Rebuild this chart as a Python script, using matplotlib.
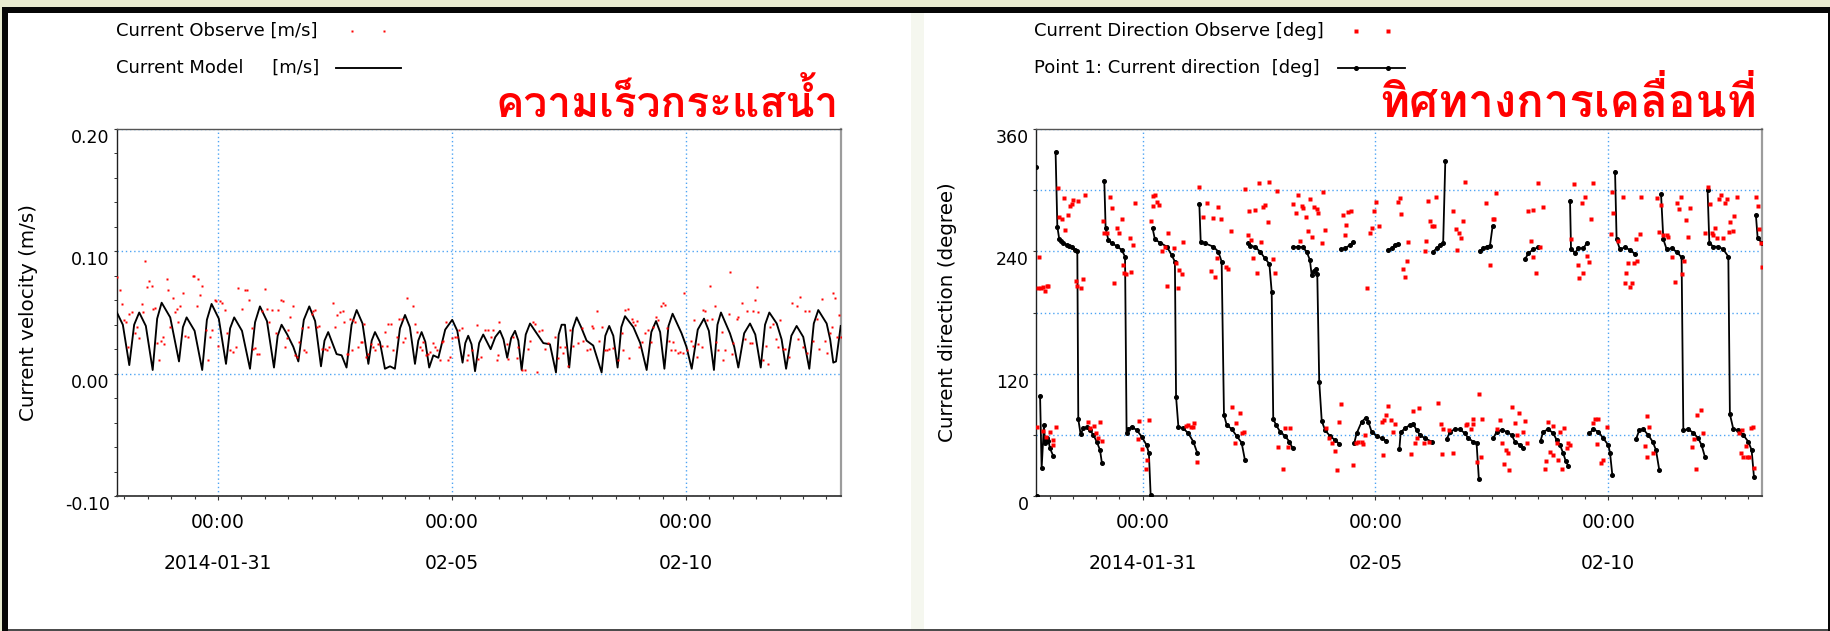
import numpy as np
import matplotlib
matplotlib.use("Agg")
import matplotlib.pyplot as plt
import matplotlib.dates as mdates
import matplotlib.transforms as mtransforms
from matplotlib import font_manager
from matplotlib.ft2font import FT2Font
from matplotlib.lines import Line2D
from matplotlib.patches import Rectangle
from matplotlib.ticker import FixedLocator, FixedFormatter, MultipleLocator

NAN = float("nan")

# ---------------------------------------------------------------- axes setup
VEL_START = np.datetime64("2014-01-28T20:00")
VEL_SPAN_H = 371.3
DIR_START = np.datetime64("2014-01-28T17:00")
DIR_SPAN_H = 374.1

MAJOR_DATES = ["2014-01-31", "2014-02-05", "2014-02-10"]
TIME_LABELS = ["00:00", "00:00", "00:00"]
DATE_LABELS = ["2014-01-31", "02-05", "02-10"]

VEL_YLIM = (-0.10, 0.20)
VEL_YTICKS = [-0.10, 0.00, 0.10, 0.20]
VEL_YTICK_LABELS = ["-0.10", "0.00", "0.10", "0.20"]
DIR_YLIM = (0, 360)
DIR_YTICKS = [0, 60, 120, 180, 240, 300, 360]
DIR_YTICK_LABELS = ["0", "", "120", "", "240", "", "360"]

TITLE_VEL = "ความเร็วกระแสน้ำ"
TITLE_DIR = "ทิศทางการเคลื่อนที่"
LEGEND_VEL = ["Current Observe [m/s]", "Current Model     [m/s]"]
LEGEND_DIR = ["Current Direction Observe [deg]", "Point 1: Current direction  [deg]"]
YLABEL_VEL = "Current velocity (m/s)"
YLABEL_DIR = "Current direction (degree)"

# ---------------------------------------------------------------- data
# (hours since VEL_START, speed m/s)
VEL_OBS = [
    (0.0, 0.079), (1.7, 0.068), (2.6, 0.057), (3.8, 0.044), (4.8, 0.042), (5.6, 0.022), (6.5, 0.049),
    (7.7, 0.050), (9.4, 0.033), (10.3, 0.038), (11.6, 0.029), (12.8, 0.057), (13.7, 0.050), (14.5, 0.092),
    (15.7, 0.071), (16.6, 0.076), (17.9, 0.072), (18.5, 0.053), (19.7, 0.054), (20.5, 0.025), (21.9, 0.011),
    (22.6, 0.027), (23.6, 0.030), (24.4, 0.024), (25.6, 0.077), (26.5, 0.068), (27.4, 0.038), (28.7, 0.062),
    (29.9, 0.050), (30.8, 0.053), (31.6, 0.042), (32.5, 0.055), (33.8, 0.066), (35.0, 0.031), (36.8, 0.030),
    (39.0, 0.080), (39.8, 0.080), (41.0, 0.055), (41.9, 0.077), (42.7, 0.064), (43.6, 0.072), (45.8, 0.036),
    (47.0, 0.011), (47.9, 0.030), (48.7, 0.036), (50.4, 0.060), (50.9, 0.059), (52.1, 0.023), (53.0, 0.059),
    (53.8, 0.058), (55.6, 0.052), (56.4, 0.033), (58.1, 0.019), (59.8, 0.018), (61.2, 0.022), (62.4, 0.070),
    (64.1, 0.053), (65.8, 0.068), (66.7, 0.068), (68.0, 0.060), (69.2, 0.037), (70.1, 0.020), (70.9, 0.021),
    (72.1, 0.016), (73.2, 0.016), (74.4, 0.051), (76.1, 0.069), (76.9, 0.053), (78.3, 0.042), (79.5, 0.052),
    (81.7, 0.033), (82.9, 0.052), (84.1, 0.060), (85.1, 0.059), (86.3, 0.022), (87.2, 0.029), (88.0, 0.036),
    (88.9, 0.046), (90.3, 0.055), (91.5, 0.015), (92.3, 0.014), (93.7, 0.026), (94.9, 0.037), (96.1, 0.019),
    (97.1, 0.018), (98.3, 0.038), (100.0, 0.049), (100.9, 0.051), (101.7, 0.052), (102.6, 0.038),
    (103.9, 0.039), (105.1, 0.020), (106.8, 0.020), (107.7, 0.019), (109.1, 0.022), (110.8, 0.058),
    (112.0, 0.038), (112.8, 0.048), (114.5, 0.050), (115.9, 0.051), (116.6, 0.042), (117.9, 0.016),
    (118.8, 0.016), (119.7, 0.045), (120.5, 0.019), (121.4, 0.044), (122.2, 0.042), (123.9, 0.022),
    (125.1, 0.026), (125.8, 0.026), (126.8, 0.041), (127.9, 0.014), (129.1, 0.016), (130.3, 0.024),
    (131.3, 0.022), (132.5, 0.019), (134.2, 0.024), (135.9, 0.023), (137.6, 0.034), (138.5, 0.023),
    (139.3, 0.041), (140.5, 0.041), (141.9, 0.019), (143.6, 0.030), (145.0, 0.045), (146.2, 0.045),
    (147.0, 0.026), (147.9, 0.029), (149.1, 0.062), (151.8, 0.055), (153.0, 0.041), (153.8, 0.034),
    (155.6, 0.022), (156.4, 0.019), (157.3, 0.026), (158.6, 0.015), (159.8, 0.016), (160.7, 0.018),
    (162.1, 0.025), (163.2, 0.022), (164.1, 0.019), (165.8, 0.011), (166.7, 0.026), (167.5, 0.027),
    (168.9, 0.042), (170.1, 0.011), (170.9, 0.014), (171.8, 0.029), (173.5, 0.030), (174.7, 0.030),
    (175.7, 0.036), (176.9, 0.037), (179.5, 0.011), (180.3, 0.015), (182.1, 0.019), (184.6, 0.040),
    (185.5, 0.012), (186.7, 0.014), (188.9, 0.036), (190.6, 0.036), (191.8, 0.030), (193.2, 0.036),
    (194.9, 0.011), (195.7, 0.015), (196.2, 0.042),
    (200.0, 0.024), (200.9, 0.012), (203.4, 0.030), (205.1, 0.013), (206.0, 0.022), (207.7, 0.003),
    (209.4, 0.003), (211.1, 0.020), (212.0, 0.027), (213.7, 0.042), (214.5, 0.041), (215.4, 0.001),
    (216.8, 0.035), (217.9, 0.036), (219.7, 0.020), (221.4, 0.025), (224.8, 0.030), (226.5, 0.013),
    (227.4, 0.022), (229.1, 0.017), (229.9, 0.022), (231.6, 0.006), (232.5, 0.036), (234.2, 0.023),
    (236.8, 0.025), (238.5, 0.037), (239.3, 0.027), (241.0, 0.019), (242.7, 0.020), (243.6, 0.039),
    (244.4, 0.037), (246.2, 0.051), (247.5, 0.027), (248.7, 0.038), (250.4, 0.019), (251.3, 0.019),
    (252.6, 0.020), (254.4, 0.021), (257.3, 0.011), (259.0, 0.033), (259.5, 0.019), (260.7, 0.052),
    (262.1, 0.053), (262.9, 0.013), (264.1, 0.045), (265.0, 0.042), (265.8, 0.040), (267.0, 0.043),
    (268.0, 0.022), (269.2, 0.026), (270.9, 0.033), (272.6, 0.036), (273.8, 0.026), (275.2, 0.038),
    (276.6, 0.046), (277.8, 0.044), (279.0, 0.055), (280.3, 0.058), (281.2, 0.056), (282.1, 0.037),
    (283.4, 0.027), (284.1, 0.019), (285.1, 0.026), (286.3, 0.019), (288.0, 0.017), (288.9, 0.018),
    (290.3, 0.017), (290.9, 0.066), (292.3, 0.019), (294.4, 0.027), (295.4, 0.023), (296.1, 0.044),
    (297.4, 0.014), (298.3, 0.024), (300.0, 0.022), (300.9, 0.052), (301.7, 0.051), (302.6, 0.044),
    (304.3, 0.072), (305.1, 0.045), (306.8, 0.055), (307.4, 0.026), (308.5, 0.019), (310.3, 0.034),
    (311.1, 0.011), (312.0, 0.019), (314.2, 0.049), (314.5, 0.083), (315.4, 0.016), (316.2, 0.025),
    (317.9, 0.045), (318.8, 0.046), (320.5, 0.058), (322.2, 0.028), (323.1, 0.051), (324.8, 0.025),
    (325.6, 0.025), (326.5, 0.051), (327.4, 0.060), (328.2, 0.071), (329.1, 0.050), (331.6, 0.011),
    (333.0, 0.023), (334.2, 0.008), (335.0, 0.038), (336.8, 0.041), (338.1, 0.028), (339.3, 0.022),
    (340.2, 0.044), (341.9, 0.020), (342.7, 0.020), (344.9, 0.014), (346.2, 0.058), (348.7, 0.055),
    (349.6, 0.028), (350.4, 0.063), (352.1, 0.022), (353.0, 0.051), (353.8, 0.017), (355.2, 0.051),
    (357.3, 0.027), (359.0, 0.045), (360.3, 0.020), (361.5, 0.061), (363.2, 0.027), (364.4, 0.017),
    (365.8, 0.033), (366.7, 0.038), (367.5, 0.066), (368.4, 0.062), (369.2, 0.030), (370.6, 0.048),
    (371.2, 0.030),
]

# (hours since VEL_START, modelled speed m/s)
VEL_MODEL = [
    (0.0, 0.0505), (3.2, 0.040), (6.5, 0.007), (9.0, 0.040), (11.6, 0.050), (15.0, 0.039), (18.5, 0.003),
    (20.8, 0.045), (23.1, 0.058), (27.5, 0.046), (32.0, 0.010), (34.0, 0.038), (35.9, 0.046), (40.0, 0.035),
    (43.9, 0.003), (46.3, 0.044), (48.7, 0.057), (52.4, 0.045), (56.1, 0.008), (58.2, 0.037), (60.3, 0.046),
    (64.3, 0.035), (68.4, 0.004), (71.0, 0.042), (73.5, 0.055), (77.1, 0.043), (80.7, 0.005), (82.6, 0.031),
    (84.6, 0.040), (87.5, 0.032), (90.6, 0.022), (93.2, 0.010), (96.0, 0.044), (98.8, 0.055), (101.8, 0.043),
    (104.8, 0.006), (106.6, 0.027), (108.5, 0.034), (112.8, 0.016), (115.4, 0.015), (117.9, 0.005),
    (120.5, 0.040), (123.1, 0.052), (126.1, 0.041), (129.1, 0.008), (130.8, 0.027), (132.5, 0.034),
    (135.0, 0.026), (137.6, 0.004), (140.2, 0.006), (142.7, 0.004), (145.3, 0.037), (147.9, 0.048),
    (150.4, 0.038), (153.0, 0.008), (154.7, 0.027), (156.4, 0.034), (158.3, 0.026), (160.3, 0.005),
    (162.4, 0.015), (165.0, 0.013), (168.5, 0.036), (172.1, 0.044), (174.7, 0.035), (177.4, 0.009),
    (178.8, 0.025), (180.3, 0.031), (182.0, 0.024), (183.8, 0.002), (185.9, 0.025), (188.0, 0.032),
    (191.8, 0.020), (194.2, 0.030), (196.6, 0.035), (198.4, 0.028), (200.3, 0.013), (202.3, 0.029),
    (204.3, 0.035), (206.0, 0.027), (207.7, 0.003), (209.8, 0.032), (212.0, 0.041), (215.0, 0.034),
    (218.8, 0.025), (222.2, 0.024), (225.3, 0.001), (226.7, 0.032), (228.2, 0.040), (229.9, 0.040),
    (232.1, 0.005), (234.0, 0.037), (235.9, 0.046), (238.2, 0.038), (241.0, 0.027), (244.4, 0.023),
    (248.7, 0.001), (250.6, 0.031), (252.6, 0.039), (254.7, 0.031), (256.9, 0.005), (258.8, 0.038),
    (260.7, 0.047), (265.0, 0.038), (268.5, 0.025), (271.8, 0.003), (274.2, 0.034), (276.6, 0.043),
    (278.7, 0.034), (280.9, 0.004), (283.0, 0.039), (285.1, 0.049), (289.7, 0.033), (292.2, 0.022),
    (294.9, 0.004), (298.0, 0.036), (301.2, 0.045), (303.7, 0.035), (306.3, 0.003), (308.1, 0.040),
    (309.9, 0.050), (314.5, 0.033), (316.7, 0.022), (318.8, 0.005), (321.8, 0.033), (324.8, 0.041),
    (327.5, 0.032), (330.3, 0.005), (332.5, 0.040), (334.7, 0.050), (338.5, 0.041), (341.0, 0.028),
    (343.3, 0.004), (346.0, 0.031), (348.7, 0.039), (352.1, 0.030), (355.2, 0.004), (357.5, 0.041),
    (359.8, 0.052), (364.1, 0.041), (365.9, 0.028), (367.5, 0.009), (368.9, 0.010), (371.3, 0.039),
]

# (hours since DIR_START, direction deg)
DIR_OBS = [
    (0.3, 67.4), (1.7, 234.8), (1.2, 203.7), (2.4, 203.7), (3.4, 205.4), (4.6, 201.4), (5.5, 206.0),
    (6.4, 206.0), (3.8, 64.1), (5.2, 58.2), (7.2, 63.1), (8.6, 50.0), (8.9, 54.9), (10.1, 68.0),
    (11.2, 301.8), (12.0, 274.0), (13.2, 271.4), (14.9, 261.0), (14.4, 292.0), (16.7, 275.7), (17.5, 284.8),
    (18.4, 286.5), (19.2, 290.4), (21.8, 289.7), (25.3, 295.3), (20.6, 211.2), (21.3, 206.3), (23.0, 203.7),
    (24.1, 212.9), (27.0, 72.9), (27.8, 66.4), (29.9, 68.7), (30.9, 62.1), (32.1, 56.6), (33.0, 72.3),
    (33.8, 54.3), (34.4, 270.1), (35.1, 258.3), (36.8, 257.7), (38.1, 293.0), (39.3, 282.2), (41.9, 262.6),
    (43.0, 258.3), (44.2, 272.1), (45.0, 226.6), (45.4, 218.4), (46.4, 217.8), (48.5, 252.8), (48.8, 220.1),
    (50.2, 246.2), (51.0, 287.8), (40.2, 208.6), (52.7, 55.6), (53.3, 73.9), (54.5, 45.8), (56.7, 26.2),
    (57.4, 35.3), (58.4, 74.6), (59.1, 270.1), (60.1, 294.3), (61.3, 295.3), (62.2, 288.7), (63.4, 285.5),
    (60.5, 284.5), (64.8, 240.3), (66.5, 243.9), (67.4, 206.0), (68.2, 257.7), (71.1, 243.6), (72.2, 228.3),
    (73.9, 221.7), (75.1, 217.5), (73.4, 203.7), (75.9, 249.5), (77.3, 68.7), (78.5, 69.7), (79.7, 68.0),
    (81.4, 71.3), (80.8, 67.4), (83.2, 33.7), (84.2, 303.5), (85.9, 274.0), (88.0, 287.8), (91.1, 272.4),
    (94.0, 283.2), (95.2, 271.4), (100.3, 260.0), (90.0, 220.7), (92.3, 215.2), (93.1, 233.2), (97.9, 225.0),
    (99.1, 222.7), (100.9, 87.0), (103.1, 71.9), (105.2, 81.1), (102.6, 51.7), (106.0, 62.1), (107.2, 63.1),
    (107.7, 300.8), (110.0, 279.9), (112.9, 280.6), (115.1, 306.7), (116.8, 283.2), (118.0, 285.5),
    (119.4, 268.5), (120.3, 308.4), (124.1, 299.2), (109.1, 256.0), (110.7, 251.1), (112.0, 233.2),
    (114.1, 219.1), (115.8, 249.5), (122.0, 232.2), (123.2, 219.1), (124.9, 48.4), (127.1, 26.2),
    (128.4, 66.4), (130.9, 66.4), (130.1, 47.7), (132.3, 286.5), (134.0, 278.0), (135.2, 295.3),
    (136.1, 250.5), (137.0, 284.5), (137.8, 282.2), (139.2, 274.0), (140.4, 260.3), (141.2, 291.0),
    (142.1, 253.8), (143.3, 283.2), (144.7, 281.2), (145.5, 278.0), (147.3, 247.9), (148.1, 298.6),
    (149.0, 261.0), (149.5, 66.4), (151.2, 56.6), (152.4, 51.7), (154.1, 44.5), (155.0, 25.5), (156.4, 72.9),
    (157.0, 90.3), (158.1, 275.7), (159.8, 265.9), (161.0, 278.9), (162.2, 279.9), (159.3, 256.0),
    (163.2, 30.4), (164.9, 51.7), (166.2, 53.3), (167.9, 53.3), (168.7, 51.0), (169.6, 59.8), (170.8, 203.7),
    (172.2, 257.7), (173.0, 262.6), (174.2, 279.9), (175.3, 288.7), (177.0, 264.9), (178.2, 72.9),
    (179.4, 74.6), (180.4, 79.5), (181.6, 88.3), (182.8, 74.6), (183.8, 63.1), (185.1, 70.6), (178.9, 40.2),
    (186.8, 288.7), (187.6, 292.0), (188.0, 276.6), (189.3, 222.4), (190.2, 214.5), (191.1, 230.9),
    (191.9, 249.5), (193.1, 40.9), (194.2, 83.7), (195.4, 52.3), (196.2, 56.6), (197.6, 86.0),
    (200.3, 240.7), (201.0, 250.5), (202.2, 289.7), (203.1, 270.1), (204.0, 264.9), (205.2, 264.9),
    (206.2, 293.6), (215.0, 279.9), (216.5, 261.6), (217.2, 241.3), (218.2, 257.7), (218.9, 252.8),
    (220.3, 270.1), (221.1, 308.4), (232.0, 287.8), (234.0, 226.6), (235.4, 271.4), (236.1, 271.4),
    (237.1, 296.9), (253.6, 279.9), (256.3, 280.6), (255.0, 250.5), (256.0, 234.1), (258.0, 219.1),
    (258.9, 306.7), (261.2, 283.2), (259.8, 244.6), (275.8, 251.8), (277.3, 306.1), (281.3, 287.8),
    (283.0, 293.6), (286.0, 271.4), (287.3, 307.4), (279.2, 226.6), (282.1, 219.1), (280.1, 213.5),
    (283.8, 235.4), (285.2, 229.9), (296.2, 257.0), (296.8, 298.6), (297.7, 278.0), (299.9, 250.5),
    (302.5, 293.6), (305.2, 228.3), (304.4, 218.4), (303.4, 208.6), (306.2, 205.4), (307.0, 209.3),
    (308.2, 228.3), (310.0, 230.9), (309.3, 251.8), (311.3, 257.0), (311.9, 293.6), (319.9, 292.7),
    (321.3, 259.3), (322.0, 285.5), (323.1, 256.0), (325.4, 256.0), (325.9, 253.8), (328.1, 234.8),
    (329.2, 209.6), (330.2, 287.8), (331.4, 281.2), (332.3, 293.6), (332.8, 217.8), (334.0, 230.9),
    (335.0, 270.8), (336.0, 253.8), (337.1, 282.2), (344.9, 258.3), (346.2, 303.5), (347.4, 286.5),
    (348.3, 258.3), (349.1, 256.0), (350.0, 262.6), (351.2, 252.8), (352.2, 291.0), (352.9, 295.3),
    (354.3, 252.8), (355.2, 287.1), (356.0, 291.0), (357.4, 259.3), (357.7, 269.1), (359.1, 260.3),
    (359.8, 274.7), (361.2, 293.0), (371.1, 293.6), (372.0, 284.5), (372.8, 261.6), (373.7, 248.5),
    (374.0, 224.3),
    (200.1, 52.3), (202.7, 53.3), (207.4, 90.9), (208.6, 70.6), (210.0, 65.4), (209.1, 41.2), (213.0, 64.7),
    (214.8, 41.9), (221.6, 69.7), (222.4, 70.6), (224.1, 65.4), (225.4, 70.6), (225.1, 75.2), (227.1, 33.7),
    (228.5, 100.1), (229.2, 37.9), (229.7, 75.2), (237.8, 65.4), (239.2, 74.6), (240.0, 52.3), (241.2, 31.4),
    (242.3, 45.1), (243.5, 41.9), (244.0, 25.5), (245.2, 87.0), (246.9, 71.9), (248.1, 59.8), (249.1, 81.8),
    (250.9, 63.1), (252.1, 73.9), (253.0, 52.3), (262.4, 26.2), (262.9, 34.7), (264.1, 72.9), (265.0, 43.5),
    (266.3, 68.7), (266.7, 40.2), (268.4, 52.3), (269.3, 35.3), (270.1, 63.1), (271.0, 26.2), (272.2, 66.4),
    (273.5, 46.8), (274.4, 51.7), (275.3, 50.0), (287.3, 71.3), (288.2, 75.2), (289.9, 75.2), (291.1, 32.0),
    (292.1, 35.3), (289.0, 51.0), (294.5, 68.0), (315.1, 78.5), (316.2, 67.4), (314.0, 49.1), (314.9, 37.9),
    (318.1, 41.9), (338.0, 48.4), (339.2, 55.6), (340.6, 79.5), (342.6, 84.4), (340.2, 26.2), (343.9, 62.1),
    (362.6, 62.1), (363.7, 64.7), (363.2, 41.9), (364.6, 37.9), (365.9, 49.1), (366.6, 38.6), (367.7, 38.6),
    (368.4, 66.4), (369.5, 67.4), (370.1, 27.1),
]

# modelled direction, one list per continuous run (hours since DIR_START, deg)
DIR_MODEL_SEGMENTS = [
    [(0.0, 323.1)],
    [(0.3, 0.0)],
    [(2.1, 98.1), (2.9, 27.1), (4.1, 69.7), (4.6, 52.3), (5.5, 56.6), (6.4, 54.3), (7.2, 46.8), (8.9, 39.2)],
    [(10.1, 337.1), (11.0, 264.2), (12.0, 251.8), (13.0, 250.0), (14.1, 248.5), (15.8, 246.2), (17.0, 245.0),
     (18.4, 243.9), (20.1, 241.3), (21.3, 240.3), (21.8, 75.5), (23.0, 60.5), (24.4, 66.4), (26.1, 67.4),
     (27.8, 64.7), (29.6, 59.8), (31.3, 53.3), (33.0, 45.1), (34.0, 32.0)],
    [(35.2, 309.3), (35.9, 262.6), (37.3, 251.1), (39.0, 247.9), (41.6, 245.3), (44.2, 241.3), (45.9, 234.8),
     (46.7, 61.5), (47.6, 65.4), (49.3, 68.0), (51.9, 64.7), (54.5, 58.2), (57.0, 50.0), (58.2, 41.9),
     (59.1, 1.0)],
    [(60.1, 262.6), (61.3, 251.8), (63.9, 248.5), (67.4, 244.6), (69.9, 236.4), (71.6, 229.9), (72.2, 97.4),
     (73.4, 68.0), (75.9, 66.4), (78.5, 61.5), (81.1, 53.3), (83.2, 41.9)],
    [(84.2, 286.1), (84.9, 249.5), (87.1, 247.9), (91.4, 244.6), (94.0, 239.7), (95.7, 229.9), (96.9, 79.5),
     (98.3, 69.7), (100.9, 65.7), (103.4, 58.9), (106.0, 52.3), (107.7, 35.3)],
    [(109.5, 248.5), (110.3, 245.3), (112.9, 244.6), (115.5, 239.7), (118.0, 233.2), (120.3, 227.6),
     (121.5, 200.4), (122.3, 75.5), (123.7, 69.9), (125.8, 63.1), (128.4, 58.9), (130.6, 53.3), (132.3, 46.8)],
    [(132.6, 243.9), (135.2, 244.6), (137.5, 243.9), (139.5, 239.7), (141.2, 231.5), (142.1, 216.8),
     (143.3, 221.1), (144.3, 222.4), (145.0, 217.8), (146.0, 112.2), (147.3, 73.6), (149.0, 64.7),
     (151.5, 58.9), (154.1, 55.0), (156.4, 51.0)],
    [(157.0, 242.0), (159.3, 243.0), (161.9, 246.2), (163.6, 249.5)],
    [(164.1, 52.3), (165.3, 61.5), (167.9, 72.9), (170.1, 76.8), (171.3, 72.9), (173.0, 63.1), (175.6, 58.9),
     (178.2, 56.6), (180.4, 54.3)],
    [(181.6, 241.3), (183.3, 243.0), (185.1, 246.2), (186.8, 247.2)],
    [(187.3, 45.8), (188.0, 62.5), (190.2, 66.4), (192.8, 69.7), (194.5, 70.6), (196.2, 64.7), (197.9, 59.8),
     (200.5, 56.6), (204.0, 53.3)],
    [(204.8, 239.7), (206.5, 243.0), (208.2, 246.2), (209.9, 248.5), (211.0, 328.6)],
    [(211.7, 55.6), (213.4, 63.1), (215.9, 65.4), (218.5, 65.4), (221.1, 61.5), (222.9, 56.6), (225.4, 53.3),
     (227.1, 52.3), (228.3, 16.7)],
    [(228.9, 240.3), (230.6, 243.0), (232.3, 244.6), (234.0, 245.3), (235.4, 264.9)],
    [(235.7, 56.6), (237.5, 63.1), (240.0, 64.7), (242.6, 63.1), (245.2, 59.8), (246.9, 53.3), (249.5, 50.0),
     (251.2, 46.8)],
    [(252.1, 232.2), (253.8, 238.1), (256.4, 242.0), (258.9, 243.9)],
    [(260.1, 54.3), (261.5, 63.1), (264.1, 65.4), (266.7, 61.5), (268.4, 54.9), (270.1, 50.0), (271.8, 41.9),
     (273.0, 34.7), (274.4, 29.4)],
    [(275.3, 289.7), (275.8, 242.0), (277.9, 238.7), (279.6, 243.0), (282.1, 243.0), (284.2, 248.5)],
    [(285.2, 61.5), (287.3, 65.4), (289.9, 63.1), (292.4, 56.6), (295.0, 50.0), (295.9, 42.5), (297.1, 20.6)],
    [(298.5, 318.2), (299.3, 251.8), (301.0, 242.0), (303.6, 244.0), (306.2, 241.3), (308.8, 237.4)],
    [(309.3, 55.6), (311.0, 64.7), (313.1, 65.4), (315.6, 59.8), (317.9, 53.3), (319.6, 45.1), (321.3, 25.5)],
    [(322.2, 296.3), (323.4, 251.8), (325.1, 242.0), (327.7, 243.0), (330.2, 239.7), (332.8, 234.1),
     (333.7, 64.7), (336.2, 65.4), (338.8, 62.1), (341.4, 56.6), (343.1, 50.0), (344.8, 38.6)],
    [(346.2, 300.2), (347.1, 248.5), (349.1, 244.6), (351.7, 244.6), (354.3, 242.0), (356.9, 234.8),
     (357.7, 80.4), (359.5, 65.4), (362.0, 64.7), (364.6, 59.8), (367.2, 53.3), (368.9, 45.1), (370.1, 19.0)],
    [(371.1, 275.7), (372.0, 253.4), (374.0, 248.5)],
]

# ---------------------------------------------------------------- styling
W, H, DPI = 1831, 631, 100
OBS_RED = "#ff0000"
GRID_BLUE = "#4ea4f4"
TICK_FONT = 12.5
XTICK_FONT = 13.5
LABEL_FONT = 14.3
LEGEND_FONT = 13
VEL_DOT = 2.1


def hours_to_time(start, hours):
    minutes = np.round(np.asarray(hours, dtype=float) * 60.0).astype("int64")
    return start + minutes.astype("timedelta64[m]")


def fx(px):
    return px / W


def fy(py):
    return 1.0 - py / H


def px_axes(x0, y0, x1, y1):
    return [x0 / W, 1.0 - y1 / H, (x1 - x0) / W, (y1 - y0) / H]


def pick_thai_font():
    wanted = {ord(c) for c in TITLE_VEL + TITLE_DIR}
    best = None
    for entry in font_manager.fontManager.ttflist:
        try:
            cmap = FT2Font(entry.fname).get_charmap()
        except Exception:
            continue
        if wanted.issubset(cmap.keys()):
            weight = entry.weight if isinstance(entry.weight, (int, float)) else 400
            rank = (weight >= 600, -abs(weight - 700))
            if best is None or rank > best[0]:
                best = (rank, entry)
    if best is None:
        return font_manager.FontProperties(family="DejaVu Sans", weight="bold")
    return font_manager.FontProperties(fname=best[1].fname)


plt.rcParams["font.family"] = ["DejaVu Sans"]
fig = plt.figure(figsize=(W / DPI, H / DPI), dpi=DPI)
fig.patch.set_facecolor("white")

# slide frame around the two panels
frame = [
    ((0, 0, W, 7), "#e7eacf"),
    ((0, 0, 2.5, H), "#e7eacf"),
    ((911, 12.5, 924, 628.5), "#f5f7ef"),
    ((2.5, 7, 1829, 12.5), "#060606"),
    ((2.5, 7, 7.5, H), "#060606"),
    ((1828, 7, W, H), "#060606"),
    ((7.5, 628.5, 1828, H), "#4c4c4c"),
]
for (x0, y0, x1, y1), col in frame:
    fig.add_artist(Rectangle((fx(x0), fy(y1)), (x1 - x0) / W, (y1 - y0) / H,
                             transform=fig.transFigure, facecolor=col, edgecolor="none", zorder=0))

ax_v = fig.add_axes(px_axes(116.6, 129, 840.7, 496))
ax_d = fig.add_axes(px_axes(1036, 129, 1761.7, 496))

# velocity panel
vo = np.array(VEL_OBS)
vm = np.array(VEL_MODEL)
ax_v.plot(hours_to_time(VEL_START, vm[:, 0]), vm[:, 1], color="black", lw=1.35,
          solid_joinstyle="round", zorder=3)
ax_v.plot(hours_to_time(VEL_START, vo[:, 0]), vo[:, 1], ls="none", marker="s", ms=VEL_DOT,
          mfc=OBS_RED, mec="none", zorder=4)
ax_v.set_xlim(hours_to_time(VEL_START, [0.0, VEL_SPAN_H]))
ax_v.set_ylim(*VEL_YLIM)
ax_v.yaxis.set_major_locator(FixedLocator(VEL_YTICKS))
ax_v.yaxis.set_major_formatter(FixedFormatter(VEL_YTICK_LABELS))
ax_v.yaxis.set_minor_locator(MultipleLocator(0.02))

# direction panel
mh, md = [], []
for seg in DIR_MODEL_SEGMENTS:
    for h, d in seg:
        mh.append(h)
        md.append(d)
    mh.append(seg[-1][0])
    md.append(NAN)
do = np.array(DIR_OBS)
ax_d.plot(hours_to_time(DIR_START, mh), md, color="black", lw=1.3, marker="o", ms=2.6,
          mfc="black", mec="black", zorder=3)
ax_d.plot(hours_to_time(DIR_START, do[:, 0]), do[:, 1], ls="none", marker="s", ms=3.2,
          mfc=OBS_RED, mec="none", zorder=4)
ax_d.set_xlim(hours_to_time(DIR_START, [0.0, DIR_SPAN_H]))
ax_d.set_ylim(*DIR_YLIM)
ax_d.yaxis.set_major_locator(FixedLocator(DIR_YTICKS))
ax_d.yaxis.set_major_formatter(FixedFormatter(DIR_YTICK_LABELS))

major_nums = mdates.date2num(np.array(MAJOR_DATES, dtype="datetime64[m]"))
for ax, ylabel in ((ax_v, YLABEL_VEL), (ax_d, YLABEL_DIR)):
    ax.set_facecolor("white")
    ax.spines["left"].set_color("#202020")
    ax.spines["left"].set_linewidth(1.0)
    ax.spines["bottom"].set_color("#3a3a3a")
    ax.spines["bottom"].set_linewidth(1.3)
    ax.spines["top"].set_color("#555555")
    ax.spines["top"].set_linewidth(1.0)
    ax.spines["right"].set_color("#9c9c9c")
    ax.spines["right"].set_linewidth(1.6)

    ax.xaxis.set_major_locator(FixedLocator(major_nums))
    ax.xaxis.set_major_formatter(FixedFormatter(TIME_LABELS))
    ax.xaxis.set_minor_locator(mdates.HourLocator(byhour=[0, 12]))
    ax.tick_params(axis="x", which="major", direction="out", length=3, width=0.8, color="#333333",
                   labelsize=XTICK_FONT, pad=9.5)
    ax.tick_params(axis="x", which="minor", direction="out", length=2.5, width=0.8, color="#333333")
    ax.tick_params(axis="y", which="major", direction="out", length=2.5, width=0.8, color="#333333",
                   labelsize=TICK_FONT, pad=2.5)
    ax.tick_params(axis="y", which="minor", direction="out", length=2.0, width=0.7, color="#333333")
    for lab in ax.get_yticklabels():
        lab.set_verticalalignment("top")

    ax.grid(True, which="major", color=GRID_BLUE, linestyle=(0, (1.0, 2.0)), linewidth=1.0)
    ax.set_axisbelow(True)

    ax.set_ylabel(ylabel, fontsize=LABEL_FONT)
    ax.yaxis.set_label_coords(-0.109, 0.5)

    date_tf = mtransforms.blended_transform_factory(ax.transData, ax.transAxes)
    for num, text in zip(major_nums, DATE_LABELS):
        ax.text(num, -0.199, text, transform=date_tf, ha="center", va="baseline",
                fontsize=XTICK_FONT, clip_on=False)

# legends drawn as header rows
fig.text(fx(115.6), fy(31), LEGEND_VEL[0], ha="left", va="center", fontsize=LEGEND_FONT)
fig.text(fx(115.6), fy(68), LEGEND_VEL[1], ha="left", va="center", fontsize=LEGEND_FONT)
fig.add_artist(Line2D([fx(352), fx(384)], [fy(31), fy(31)], transform=fig.transFigure, ls="none",
                      marker="s", ms=VEL_DOT, mfc=OBS_RED, mec="none"))
fig.add_artist(Line2D([fx(335.7), fx(400.8)], [fy(68), fy(68)], transform=fig.transFigure,
                      color="black", lw=1.35))

fig.text(fx(1034.5), fy(31), LEGEND_DIR[0], ha="left", va="center", fontsize=LEGEND_FONT)
fig.text(fx(1034.5), fy(68), LEGEND_DIR[1], ha="left", va="center", fontsize=LEGEND_FONT)
fig.add_artist(Line2D([fx(1355.8), fx(1387.8)], [fy(31), fy(31)], transform=fig.transFigure, ls="none",
                      marker="s", ms=3.2, mfc=OBS_RED, mec="none"))
fig.add_artist(Line2D([fx(1338), fx(1405)], [fy(68), fy(68)], transform=fig.transFigure,
                      color="black", lw=1.3))
fig.add_artist(Line2D([fx(1356), fx(1388)], [fy(68), fy(68)], transform=fig.transFigure, ls="none",
                      marker="o", ms=2.6, mfc="black", mec="black"))

# Thai panel titles, sized to their header width
thai_fp = pick_thai_font()
renderer = fig.canvas.get_renderer()
for text, right_px, width_px in ((TITLE_VEL, 839, 343), (TITLE_DIR, 1757, 378)):
    fp = thai_fp.copy()
    fp.set_size(36)
    t = fig.text(fx(right_px), fy(117), text, ha="right", va="baseline", color=OBS_RED,
                 fontproperties=fp)
    w = t.get_window_extent(renderer).width
    if w > 0:
        fp.set_size(min(60.0, max(18.0, 36 * width_px / w)))
        t.set_fontproperties(fp)

fig.savefig("out.png", dpi=DPI, facecolor=fig.get_facecolor())
